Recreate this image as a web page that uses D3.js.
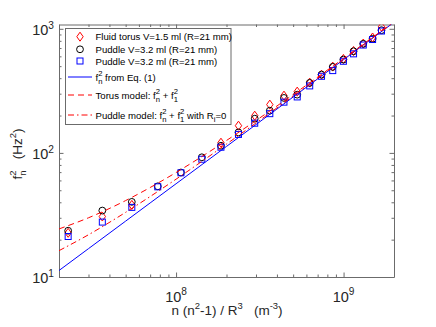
<!DOCTYPE html>
<html>
<head>
<meta charset="utf-8">
<script src="https://cdn.jsdelivr.net/npm/d3@7"></script>
<style>
body { margin: 0; background: #fff; }
svg { font-family: 'Liberation Sans', Arial, sans-serif; }
text { white-space: pre; }
</style>
</head>
<body>
<div id="chart"></div>
<script>
// mode number n and x = n(n^2-1)/R^3 for R = 21 mm
var modes = [6, 7, 8, 9, 10, 11, 12, 13, 14, 15, 16, 17, 18, 19, 20, 21, 22, 23, 24, 25];
var xVals = [2.268e7, 3.628e7, 5.442e7, 7.775e7, 1.069e8, 1.425e8, 1.853e8, 2.358e8, 2.948e8, 3.628e8,
  4.406e8, 5.287e8, 6.278e8, 7.386e8, 8.617e8, 9.977e8, 1.147e9, 1.311e9, 1.490e9, 1.684e9];

// f_n^2 measured (Hz^2)
var torusVals = [22.7, 30.7, 38.1, null, null, null, 120.8, 165.7, 199.5, 245,
  289.3, 311.7, 368.5, 427.6, 495.9, 571.6, 662.4, 760.8, 851, 1038];
var circleVals = [23.6, 34.3, 40.3, 53.8, 69.5, 92.2, 114.2, 146.3, 188.7, 218.9,
  277.3, 294.7, 366.4, 427.6, 493.3, 565.0, 659.4, 756.6, 830.6, 974.3];
var squareVals = [21.2, 27.7, 36.4, 53.3, 69.1, 88.9, 111.1, 140.9, 173.5, 207.1,
  256.4, 282.5, 346.6, 414.3, 460.4, 547.5, 628.4, 739.9, 819.7, 959.8];

// model curves
var modelX = [2e7, 3e7, 5e7, 7e7, 1e8, 1.5e8, 2e8, 3e8, 5e8, 1e9, 2e9];
var eqOneVals = [11.28, 16.92, 28.2, 39.5, 56.4, 84.6, 112.8, 169.2, 282, 564, 1128];
var torusModel = [24.4, 30.0, 41.3, 52.6, 69.5, 97.7, 125.9, 182.3, 295.1, 577.1, 1141];
var puddleModel = [16.3, 21.9, 33.2, 44.5, 61.4, 89.6, 117.8, 174.2, 287, 569, 1133];

var xTicks = [1e8, 1e9];
var yTicks = [10, 100, 1000];

var W = 436, H = 327;
var pLeft = 59, pRight = 394, pTop = 24.5, pBottom = 277;
var axisColor = '#6b6b6b';

var svg = d3.select('#chart').append('svg')
  .attr('width', W)
  .attr('height', H);

var x = d3.scaleLog().domain([2e7, 2e9]).range([pLeft, pRight]);
var y = d3.scaleLog().domain([10, 1083]).range([pBottom, pTop]);

// text with MATLAB style super/subscripts
function rich(text, parts, fs, k) {
  k = k || 0.7;
  var shift = 0;
  parts.forEach(function (p) {
    if (p.t !== undefined) {
      text.append('tspan').attr('dy', -shift).style('font-size', fs + 'px').text(p.t);
      shift = 0;
    } else {
      var sup = null;
      if (p.sup) {
        sup = text.append('tspan').attr('dy', -fs * 0.42 - shift)
          .style('font-size', fs * k + 'px').text(p.sup);
        shift = -fs * 0.42;
      }
      if (p.sub) {
        var s = text.append('tspan').attr('dy', fs * 0.32 - shift)
          .style('font-size', fs * k + 'px').text(p.sub);
        if (sup) s.attr('dx', -sup.node().getComputedTextLength());
        shift = fs * 0.32;
      }
    }
  });
}

svg.append('clipPath').attr('id', 'clip')
  .append('rect')
  .attr('x', pLeft).attr('y', pTop)
  .attr('width', pRight - pLeft).attr('height', pBottom - pTop);

///////////////////////////////////////////////////////////////
// axes (box with ticks on all sides)
///////////////////////////////////////////////////////////////

function minorOf(scale) {
  return scale.ticks().filter(function (v) {
    var m = v / Math.pow(10, Math.floor(Math.log10(v) + 1e-9));
    return Math.abs(m - 1) > 1e-6;
  });
}

var axes = [
  { gen: d3.axisBottom(x), tr: 'translate(0,' + pBottom + ')', ticks: xTicks, sc: x },
  { gen: d3.axisTop(x), tr: 'translate(0,' + pTop + ')', ticks: xTicks, sc: x },
  { gen: d3.axisLeft(y), tr: 'translate(' + pLeft + ',0)', ticks: yTicks, sc: y },
  { gen: d3.axisRight(y), tr: 'translate(' + pRight + ',0)', ticks: yTicks, sc: y }
];

axes.forEach(function (a) {
  var gMinor = svg.append('g').attr('class', 'axis').attr('transform', a.tr)
    .call(a.gen.tickValues(minorOf(a.sc)).tickSizeInner(-2.5).tickSizeOuter(0).tickFormat(''));
  gMinor.select('.domain').remove();
  var g = svg.append('g').attr('class', 'axis').attr('transform', a.tr)
    .call(a.gen.tickValues(a.ticks).tickSizeInner(-4.5).tickSizeOuter(0).tickFormat(''));
  g.selectAll('line, path').attr('stroke', axisColor);
  gMinor.selectAll('line').attr('stroke', axisColor);
});

// tick labels
svg.selectAll('.xlab')
  .data(xTicks)
  .enter()
  .append('text')
  .attr('class', 'xlab')
  .attr('x', function (d) { return x(d); })
  .attr('y', pBottom + 24.5)
  .attr('text-anchor', 'middle')
  .attr('fill', '#262626')
  .each(function (d) {
    rich(d3.select(this), [{ t: '10' }, { sup: String(Math.round(Math.log10(d))) }], 14.5);
  });

svg.selectAll('.ylab')
  .data(yTicks)
  .enter()
  .append('text')
  .attr('class', 'ylab')
  .attr('x', pLeft - 5)
  .attr('y', function (d) { return y(d) + 6; })
  .attr('text-anchor', 'end')
  .attr('fill', '#262626')
  .each(function (d) {
    rich(d3.select(this), [{ t: '10' }, { sup: String(Math.round(Math.log10(d))) }], 14.5);
  });

// axis titles
var xt = svg.append('text')
  .attr('x', 227)
  .attr('y', 315)
  .attr('text-anchor', 'middle')
  .attr('fill', '#262626');
rich(xt, [{ t: 'n (n' }, { sup: '2' }, { t: '-1) / R' }, { sup: '3' }, { t: '   (m' }, { sup: '-3' }, { t: ')' }], 13.5);

var yt = svg.append('text')
  .attr('transform', 'translate(22,154) rotate(-90)')
  .attr('text-anchor', 'middle')
  .attr('fill', '#262626');
rich(yt, [{ t: 'f' }, { sup: '2', sub: 'n' }, { t: '   (Hz' }, { sup: '2' }, { t: ')' }], 13.5);

///////////////////////////////////////////////////////////////
// markers
///////////////////////////////////////////////////////////////

var diamond = 'M0,-4.5L3.2,0L0,4.5L-3.2,0Z';
var plot = svg.append('g').attr('clip-path', 'url(#clip)');

function pts(vals) {
  return vals.map(function (v, i) { return { x: xVals[i], v: v }; })
    .filter(function (d) { return d.v !== null; });
}

plot.selectAll('.dia')
  .data(pts(torusVals))
  .enter()
  .append('path')
  .attr('class', 'dia')
  .attr('d', diamond)
  .attr('transform', function (d) { return 'translate(' + x(d.x) + ',' + y(d.v) + ')'; })
  .attr('fill', 'none')
  .attr('stroke', '#ff0000');

plot.selectAll('.circ')
  .data(pts(circleVals))
  .enter()
  .append('circle')
  .attr('class', 'circ')
  .attr('cx', function (d) { return x(d.x); })
  .attr('cy', function (d) { return y(d.v); })
  .attr('r', 3.4)
  .attr('fill', 'none')
  .attr('stroke', '#000');

plot.selectAll('.sq')
  .data(pts(squareVals))
  .enter()
  .append('rect')
  .attr('class', 'sq')
  .attr('x', function (d) { return x(d.x) - 3; })
  .attr('y', function (d) { return y(d.v) - 3; })
  .attr('width', 6)
  .attr('height', 6)
  .attr('fill', 'none')
  .attr('stroke', '#0000ff');

///////////////////////////////////////////////////////////////
// model lines
///////////////////////////////////////////////////////////////

var line = d3.line()
  .x(function (d) { return x(d[0]); })
  .y(function (d) { return y(d[1]); })
  .curve(d3.curveMonotoneX);

function zipModel(vals) {
  return modelX.map(function (v, i) { return [v, vals[i]]; });
}

var lineStyles = [
  { vals: eqOneVals, color: '#0000ff', dash: null },
  { vals: torusModel, color: '#ff0000', dash: '6,4' },
  { vals: puddleModel, color: '#ff0000', dash: '6,3,1.5,3' }
];

lineStyles.forEach(function (s) {
  plot.append('path')
    .attr('d', line(zipModel(s.vals)))
    .attr('fill', 'none')
    .attr('stroke', s.color)
    .attr('stroke-width', 1)
    .attr('stroke-dasharray', s.dash);
});

///////////////////////////////////////////////////////////////
// legend
///////////////////////////////////////////////////////////////

var legend = svg.append('g');
legend.append('rect')
  .attr('x', 65.5).attr('y', 28.5)
  .attr('width', 165.5).attr('height', 96)
  .attr('fill', '#fff')
  .attr('stroke', axisColor);

var legendRows = [
  { y: 36.7, kind: 'dia', parts: [{ t: 'Fluid torus V=1.5 ml (R=21 mm)' }] },
  { y: 49.3, kind: 'circ', parts: [{ t: 'Puddle V=3.2 ml (R=21 mm)' }] },
  { y: 61, kind: 'sq', parts: [{ t: 'Puddle V=3.2 ml (R=21 mm)' }] },
  { y: 77, kind: 0, parts: [{ t: 'f' }, { sup: '2', sub: 'n' }, { t: ' from Eq. (1)' }] },
  { y: 95, kind: 1, parts: [{ t: 'Torus model: f' }, { sup: '2', sub: 'n' }, { t: ' + f' }, { sup: '2', sub: '1' }] },
  { y: 115, kind: 2, parts: [{ t: 'Puddle model: f' }, { sup: '2', sub: 'n' }, { t: ' + f' }, { sup: '2', sub: '1' },
    { t: ' with R' }, { sub: 'i' }, { t: '=0' }] }
];

legendRows.forEach(function (r) {
  if (r.kind === 'dia') {
    legend.append('path').attr('d', diamond)
      .attr('transform', 'translate(80,' + r.y + ')')
      .attr('fill', 'none').attr('stroke', '#ff0000');
  } else if (r.kind === 'circ') {
    legend.append('circle').attr('cx', 80).attr('cy', r.y).attr('r', 3.4)
      .attr('fill', 'none').attr('stroke', '#000');
  } else if (r.kind === 'sq') {
    legend.append('rect').attr('x', 77).attr('y', r.y - 3).attr('width', 6).attr('height', 6)
      .attr('fill', 'none').attr('stroke', '#0000ff');
  } else {
    var s = lineStyles[r.kind];
    legend.append('line')
      .attr('x1', 68).attr('x2', 92).attr('y1', r.y).attr('y2', r.y)
      .attr('stroke', s.color)
      .attr('stroke-dasharray', s.dash);
  }
  var t = legend.append('text')
    .attr('x', 95.5)
    .attr('y', r.y + 3.5)
    .attr('fill', '#000');
  rich(t, r.parts, 9.6, 0.8);
});
</script>
</body>
</html>
